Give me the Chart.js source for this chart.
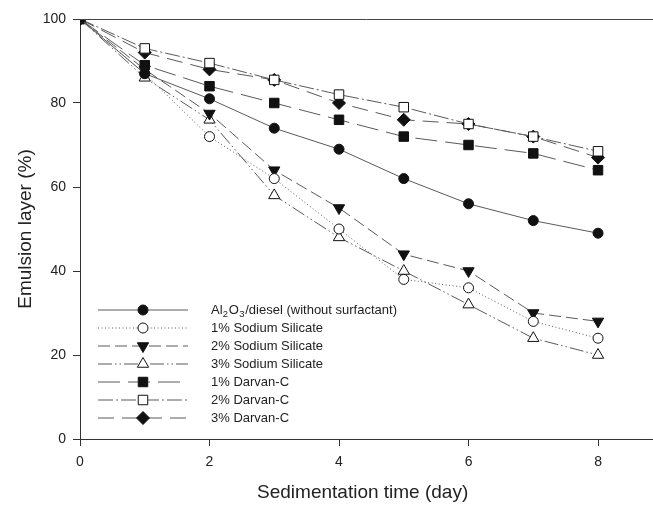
<!DOCTYPE html>
<html>
<head>
<meta charset="utf-8">
<script src="https://cdn.jsdelivr.net/npm/chart.js@4"></script>
<style>
  html, body { margin: 0; padding: 0; background: #fff; }
  canvas { display: block; }
</style>
</head>
<body>
<canvas id="myChart" width="653" height="507"></canvas>
<script>
const ctx = document.getElementById('myChart');

const days = [0, 1, 2, 3, 4, 5, 6, 7, 8];
const xTicks = [0, 2, 4, 6, 8];
const yTicks = [0, 20, 40, 60, 80, 100];

const al2o3Diesel = [100, 87, 81, 74, 69, 62, 56, 52, 49];
const sodiumSilicate1 = [100, 87, 72, 62, 50, 38, 36, 28, 24];
const sodiumSilicate2 = [100, 88, 77.5, 64, 55, 44, 40, 30, 28];
const sodiumSilicate3 = [100, 86, 76, 58, 48, 40, 32, 24, 20];
const darvan1 = [100, 89, 84, 80, 76, 72, 70, 68, 64];
const darvan2 = [100, 93, 89.5, 85.5, 82, 79, 75, 72, 68.5];
const darvan3 = [100, 92, 88, 85.5, 80, 76, 75, 72, 67];

const labels = [
    'Al2O3/diesel (without surfactant)',
    '1% Sodium Silicate',
    '2% Sodium Silicate',
    '3% Sodium Silicate',
    '1% Darvan-C',
    '2% Darvan-C',
    '3% Darvan-C'
];

function pts(values) {
    return values.map((v, i) => ({ x: days[i], y: v }));
}

const lineColor = '#5a5a5a';
const black = '#111';
const fontFamily = '"Liberation Sans", Arial, sans-serif';

const styles = [
    { dash: [], pointStyle: 'circle', radius: 5, fill: black, rotation: 0 },
    { dash: [1, 2.5], pointStyle: 'circle', radius: 5, fill: '#fff', rotation: 0 },
    { dash: [12, 5], pointStyle: 'triangle', radius: 6.5, fill: black, rotation: 180 },
    { dash: [14, 3, 1.5, 3, 1.5, 3], pointStyle: 'triangle', radius: 6.5, fill: '#fff', rotation: 0 },
    { dash: [22, 8], pointStyle: 'rect', radius: 6.7, fill: black, rotation: 0 },
    { dash: [15, 3, 2, 3], pointStyle: 'rect', radius: 6.7, fill: '#fff', rotation: 0 },
    { dash: [16, 8], pointStyle: 'rectRot', radius: 6.5, fill: black, rotation: 0 }
];

const series = [al2o3Diesel, sodiumSilicate1, sodiumSilicate2, sodiumSilicate3, darvan1, darvan2, darvan3];

const datasets = series.map((vals, i) => ({
    label: labels[i],
    data: pts(vals),
    borderColor: lineColor,
    borderWidth: 1,
    borderDash: styles[i].dash,
    pointStyle: styles[i].pointStyle,
    pointRadius: styles[i].radius,
    pointRotation: styles[i].rotation,
    pointBackgroundColor: styles[i].fill,
    pointBorderColor: black,
    pointBorderWidth: 1,
    fill: false,
    tension: 0
}));

// legend drawn inside the plot, with line + marker samples
const legendPlugin = {
    id: 'insideLegend',
    afterDatasetsDraw(chart) {
        const c = chart.ctx;
        const rowY = [310, 328, 346, 364, 382, 400, 418];
        const big = '13px ' + fontFamily;
        const small = '9.5px ' + fontFamily;
        c.save();
        styles.forEach((s, i) => {
            const y = rowY[i];
            c.strokeStyle = lineColor;
            c.lineWidth = 1;
            c.setLineDash(s.dash);
            c.beginPath();
            c.moveTo(98, y);
            c.lineTo(188, y);
            c.stroke();
            c.setLineDash([]);
            c.fillStyle = s.fill;
            c.strokeStyle = black;
            Chart.helpers.drawPoint(c, {
                pointStyle: s.pointStyle,
                radius: s.radius,
                rotation: s.rotation,
                borderWidth: 1
            }, 143, y);

            c.fillStyle = '#222';
            c.textBaseline = 'middle';
            c.font = big;
            let x = 211;
            if (i === 0) {
                const parts = [['Al', 0], ['2', 1], ['O', 0], ['3', 1], ['/diesel (without surfactant)', 0]];
                parts.forEach(p => {
                    c.font = p[1] ? small : big;
                    c.fillText(p[0], x, y + (p[1] ? 4 : 0));
                    x += c.measureText(p[0]).width + (p[1] ? 0.8 : 0.2);
                });
            } else {
                c.fillText(labels[i], x, y);
            }
        });
        c.restore();
    }
};

// top frame line, and x axis line carried on to the right edge
const frameLinePlugin = {
    id: 'frameLines',
    afterDraw(chart) {
        const a = chart.chartArea;
        const c = chart.ctx;
        c.save();
        c.strokeStyle = '#444';
        c.lineWidth = 1;
        c.beginPath();
        c.moveTo(a.left, Math.round(a.top) + 0.5);
        c.lineTo(chart.width, Math.round(a.top) + 0.5);
        c.stroke();
        c.strokeStyle = '#333';
        const yb = chart.scales.x.top;
        c.beginPath();
        c.moveTo(a.right - 1, Math.round(yb) + 0.5);
        c.lineTo(chart.width, Math.round(yb) + 0.5);
        c.stroke();
        c.restore();
    }
};

const tickFont = { family: fontFamily, size: 14 };
const titleFont = { family: fontFamily, size: 19 };

new Chart(ctx, {
    type: 'line',
    data: { datasets: datasets },
    plugins: [legendPlugin, frameLinePlugin],
    options: {
        responsive: false,
        animation: false,
        layout: { padding: { top: 19, right: 0, left: 0, bottom: 0 } },
        plugins: {
            legend: { display: false },
            tooltip: { enabled: false }
        },
        scales: {
            x: {
                type: 'linear',
                min: 0,
                max: 8.73,
                afterBuildTicks: axis => { axis.ticks = xTicks.map(v => ({ value: v })); },
                afterFit: axis => { axis.height = 68; },
                grid: { drawOnChartArea: false, tickLength: 7, color: '#333' },
                border: { color: '#333', width: 1 },
                ticks: { color: '#222', font: tickFont, padding: 8 },
                title: { display: true, text: 'Sedimentation time (day)', color: '#222', font: titleFont, padding: { top: 8, bottom: 3 } }
            },
            y: {
                min: 0,
                max: 100,
                afterBuildTicks: axis => { axis.ticks = yTicks.map(v => ({ value: v })); },
                afterFit: axis => { axis.width = 80; },
                grid: { drawOnChartArea: false, tickLength: 7, color: '#333' },
                border: { color: '#333', width: 1 },
                ticks: { color: '#222', font: tickFont, padding: 7 },
                title: { display: true, text: 'Emulsion layer (%)', color: '#222', font: titleFont, padding: { top: 14, bottom: 0 } }
            }
        }
    }
});
</script>
</body>
</html>
